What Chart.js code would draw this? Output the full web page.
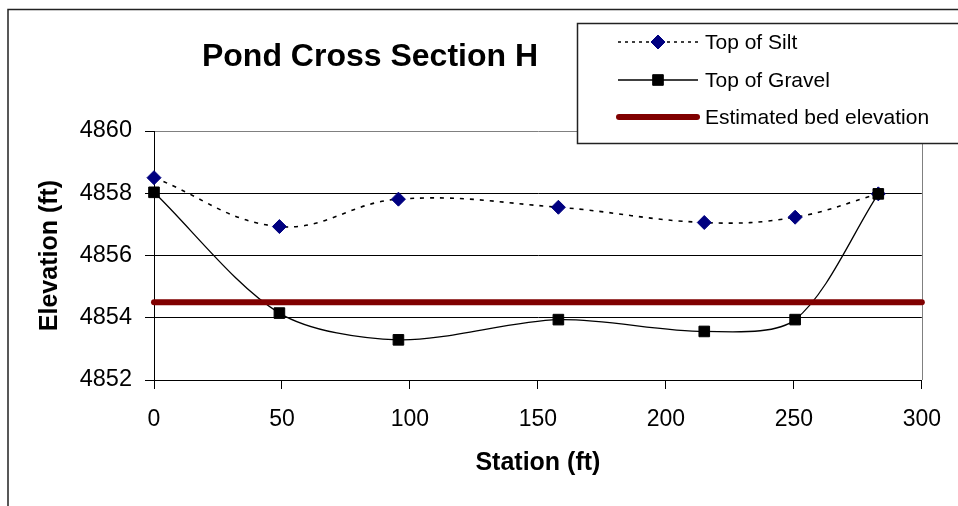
<!DOCTYPE html>
<html>
<head>
<meta charset="utf-8">
<script src="https://cdn.jsdelivr.net/npm/chart.js@4"></script>
<style>
  html, body { margin: 0; padding: 0; background: #fff; }
  #wrap { width: 958px; height: 506px; }
</style>
</head>
<body>
<div id="wrap"><canvas id="pondChart" width="958" height="506"></canvas></div>
<script>
// Pond cross section H - stations (ft) and elevations (ft)
const chartTitle = 'Pond Cross Section H';
const stations = [0, 49, 95.5, 158, 215, 250.5, 283];
const siltElev = [4858.5, 4856.93, 4857.81, 4857.55, 4857.06, 4857.23, 4857.98];
const gravelElev = [4858.03, 4854.15, 4853.29, 4853.94, 4853.56, 4853.94, 4857.98];
const bedStations = [0, 300];
const bedElev = [4854.5, 4854.5];
const xTicks = [0, 50, 100, 150, 200, 250, 300];
const yTicks = [4852, 4854, 4856, 4858, 4860];

const FONT = 'Arial, "Liberation Sans", sans-serif';

const toPoints = (xs, ys) => xs.map((x, i) => ({ x: x, y: ys[i] }));

// title, outer frame and legend box drawn like the Excel original
const decorPlugin = {
  id: 'decor',
  beforeDatasetsDraw(chart) {
    const { ctx, chartArea } = chart;
    ctx.save();
    ctx.strokeStyle = '#808080';
    ctx.lineWidth = 1;
    ctx.beginPath();
    ctx.moveTo(Math.round(chartArea.right) + 0.5, chartArea.top);
    ctx.lineTo(Math.round(chartArea.right) + 0.5, chartArea.bottom);
    ctx.stroke();
    ctx.restore();
  },
  afterDraw(chart) {
    const ctx = chart.ctx;
    ctx.save();
    // outer chart border
    ctx.strokeStyle = '#222';
    ctx.lineWidth = 1.5;
    ctx.strokeRect(8, 9.5, 1000, 1000);

    // title
    ctx.fillStyle = '#000';
    ctx.font = 'bold 32px ' + FONT;
    ctx.textAlign = 'center';
    ctx.textBaseline = 'middle';
    ctx.fillText(chartTitle, 370, 57);

    // legend box
    ctx.fillStyle = '#fff';
    ctx.fillRect(577, 23, 400, 120);
    ctx.strokeStyle = '#222';
    ctx.lineWidth = 1.5;
    ctx.strokeRect(577.5, 23.5, 400, 120);

    const rows = [42, 80, 117];
    chart.data.datasets.forEach((ds, i) => {
      const y = rows[i];
      ctx.save();
      ctx.strokeStyle = ds.borderColor;
      ctx.lineWidth = ds.borderWidth;
      ctx.lineCap = ds.borderCapStyle || 'butt';
      ctx.setLineDash(ds.borderDash ? [3, 4] : []);
      ctx.beginPath();
      if (ds.borderCapStyle === 'round') {
        ctx.moveTo(619, y); ctx.lineTo(697, y);
      } else {
        ctx.moveTo(618, y); ctx.lineTo(698, y);
      }
      ctx.stroke();
      ctx.restore();
      if (ds.pointRadius > 0) {
        ctx.save();
        ctx.fillStyle = ds.pointBackgroundColor;
        ctx.strokeStyle = ds.pointBorderColor;
        ctx.lineWidth = 1;
        Chart.helpers.drawPoint(ctx, {
          pointStyle: ds.pointStyle,
          radius: ds.pointRadius,
          borderWidth: 1,
          rotation: 0
        }, 658, y);
        ctx.restore();
      }
      ctx.fillStyle = '#000';
      ctx.font = '21px ' + FONT;
      ctx.textAlign = 'left';
      ctx.textBaseline = 'middle';
      ctx.fillText(ds.label, 705, y + 1);
    });
    ctx.restore();
  }
};

const ctx = document.getElementById('pondChart').getContext('2d');

const pondChart = new Chart(ctx, {
  type: 'line',
  data: {
    datasets: [
      {
        label: 'Top of Silt',
        data: toPoints(stations, siltElev),
        borderColor: '#000',
        borderWidth: 1.6,
        borderDash: [4, 6],
        pointStyle: 'rectRot',
        pointRadius: 7,
        pointBackgroundColor: '#000080',
        pointBorderColor: '#000080',
        pointBorderWidth: 1,
        tension: 0.4,
        clip: false,
        order: 3,
      },
      {
        label: 'Top of Gravel',
        data: toPoints(stations, gravelElev),
        borderColor: '#000',
        borderWidth: 1.3,
        pointStyle: 'rect',
        pointRadius: 7.5,
        pointBackgroundColor: '#000',
        pointBorderColor: '#000',
        pointBorderWidth: 1,
        tension: 0.3,
        clip: false,
        order: 2,
      },
      {
        label: 'Estimated bed elevation',
        data: toPoints(bedStations, bedElev),
        borderColor: '#800000',
        borderWidth: 6,
        borderCapStyle: 'round',
        pointRadius: 0,
        tension: 0,
        clip: false,
        order: 1,
      },
    ],
  },
  options: {
    responsive: false,
    animation: false,
    events: [],
    layout: { padding: { left: 0, right: 31, top: 131, bottom: 0 } },
    plugins: {
      legend: { display: false },
      title: { display: false },
      tooltip: { enabled: false },
    },
    scales: {
      x: {
        type: 'linear',
        min: 0,
        max: 300,
        afterFit: s => { s.height = 126; },
        afterBuildTicks: s => { s.ticks = xTicks.map(v => ({ value: v })); },
        grid: { drawOnChartArea: false, drawTicks: true, tickLength: 9, tickColor: '#000' },
        border: { color: '#000', width: 1 },
        ticks: {
          color: '#000',
          padding: 17,
          font: { family: FONT, size: 23 },
          callback: v => String(v),
        },
        title: {
          display: true,
          text: 'Station (ft)',
          color: '#000',
          font: { family: FONT, size: 25, weight: 'bold' },
          padding: { top: 0, bottom: 28 },
        },
      },
      y: {
        min: 4852,
        max: 4860,
        afterFit: s => { s.width = 154; },
        afterBuildTicks: s => { s.ticks = yTicks.map(v => ({ value: v })); },
        grid: {
          color: c => (c.tick && c.tick.value === 4860 ? '#808080' : '#000'),
          lineWidth: 1,
          tickLength: 9,
          tickColor: '#000',
        },
        border: { color: '#000', width: 1 },
        ticks: {
          color: '#000',
          padding: 13,
          font: { family: FONT, size: 23.5 },
          callback: v => String(v),
        },
        title: {
          display: true,
          text: 'Elevation (ft)',
          color: '#000',
          font: { family: FONT, size: 25, weight: 'bold' },
          padding: { top: 35, bottom: 0 },
        },
      },
    },
  },
  plugins: [decorPlugin],
});
</script>
</body>
</html>
